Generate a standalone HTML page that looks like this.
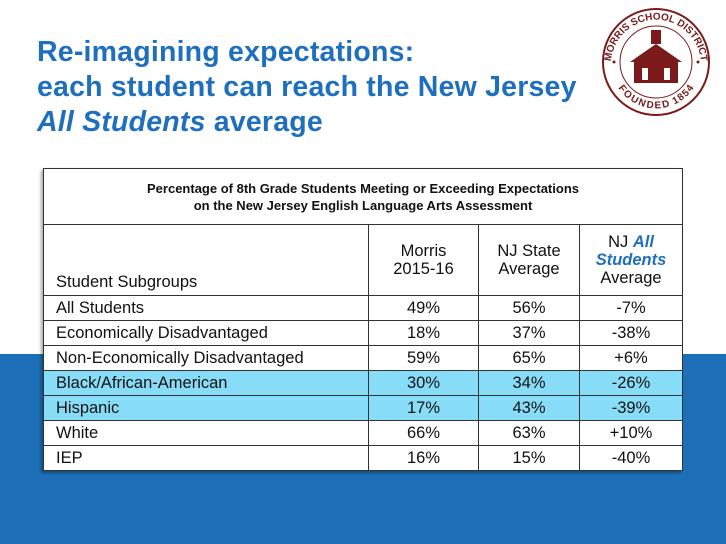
<!DOCTYPE html>
<html><head><style>
body{margin:0;width:726px;height:544px;position:relative;background:#fff;font-family:"Liberation Sans",sans-serif;overflow:hidden}
.band{position:absolute;left:0;top:354px;width:726px;height:190px;background:#1d70b8}
h1{position:absolute;left:37px;top:35px;margin:0;font-size:28.5px;line-height:35px;color:#1f6fbf;font-weight:bold;letter-spacing:0.2px}
table{position:absolute;left:43px;top:168px;width:640px;border-collapse:collapse;background:#fff;box-shadow:-2px 2px 3px rgba(0,0,0,.35)}
td{border:1.5px solid #333;font-size:16.5px;color:#111;height:24px;padding:0;text-align:center;line-height:18px}
td.l{text-align:left;padding-left:12px}
.cap{height:55px;font-size:13px;font-weight:bold;line-height:17px}
.hl td{background:#87dcf8}
.b{color:#1f6fbf;font-weight:bold;font-style:italic}
</style></head><body>
<div class="band"></div>
<h1>Re-imagining expectations:<br>each student can reach the New Jersey<br><i>All Students</i> average</h1>
<svg style="position:absolute;left:600px;top:6px" width="112" height="112" viewBox="0 0 112 112">
<circle cx="56" cy="56" r="53" fill="#fff" stroke="#7a1a1a" stroke-width="2"/>
<circle cx="56" cy="56" r="36" fill="#fff" stroke="#7a1a1a" stroke-width="1"/>
<defs><path id="tp" d="M 13 72 A 45 45 0 1 1 99 72"/><path id="bp" d="M 22 72 A 37 37 0 0 0 90 72"/></defs>
<text font-size="10" font-weight="bold" fill="#7a1a1a" font-family="Liberation Sans"><textPath href="#tp" startOffset="50%" text-anchor="middle">MORRIS SCHOOL DISTRICT</textPath></text>
<text font-size="10" font-weight="bold" fill="#7a1a1a" font-family="Liberation Sans" dy="8"><textPath href="#bp" startOffset="50%" text-anchor="middle">FOUNDED 1854</textPath></text>
<rect x="51" y="24" width="10" height="14" fill="#7a1a1a"/>
<polygon points="30,56 56,38 82,56" fill="#7a1a1a"/>
<rect x="34" y="55" width="44" height="22" fill="#7a1a1a"/>
<rect x="42" y="62" width="6" height="12" fill="#fff"/><rect x="64" y="62" width="6" height="12" fill="#fff"/>
<circle cx="14" cy="56" r="1.5" fill="#7a1a1a"/><circle cx="98" cy="56" r="1.5" fill="#7a1a1a"/>
</svg>
<table>
<tr><td colspan="4" class="cap">Percentage of 8th Grade Students Meeting or Exceeding Expectations<br>on the New Jersey English Language Arts Assessment</td></tr>
<tr style="height:71px"><td class="l" style="width:312px;vertical-align:bottom;padding-bottom:4px">Student Subgroups</td><td style="width:109px">Morris<br>2015-16</td><td style="width:100px">NJ State<br>Average</td><td>NJ <span class="b">All<br>Students</span><br>Average</td></tr>
<tr><td class="l">All Students</td><td>49%</td><td>56%</td><td>-7%</td></tr>
<tr><td class="l">Economically Disadvantaged</td><td>18%</td><td>37%</td><td>-38%</td></tr>
<tr><td class="l">Non-Economically Disadvantaged</td><td>59%</td><td>65%</td><td>+6%</td></tr>
<tr class="hl"><td class="l">Black/African-American</td><td>30%</td><td>34%</td><td>-26%</td></tr>
<tr class="hl"><td class="l">Hispanic</td><td>17%</td><td>43%</td><td>-39%</td></tr>
<tr><td class="l">White</td><td>66%</td><td>63%</td><td>+10%</td></tr>
<tr><td class="l">IEP</td><td>16%</td><td>15%</td><td>-40%</td></tr>
</table>
</body></html>
